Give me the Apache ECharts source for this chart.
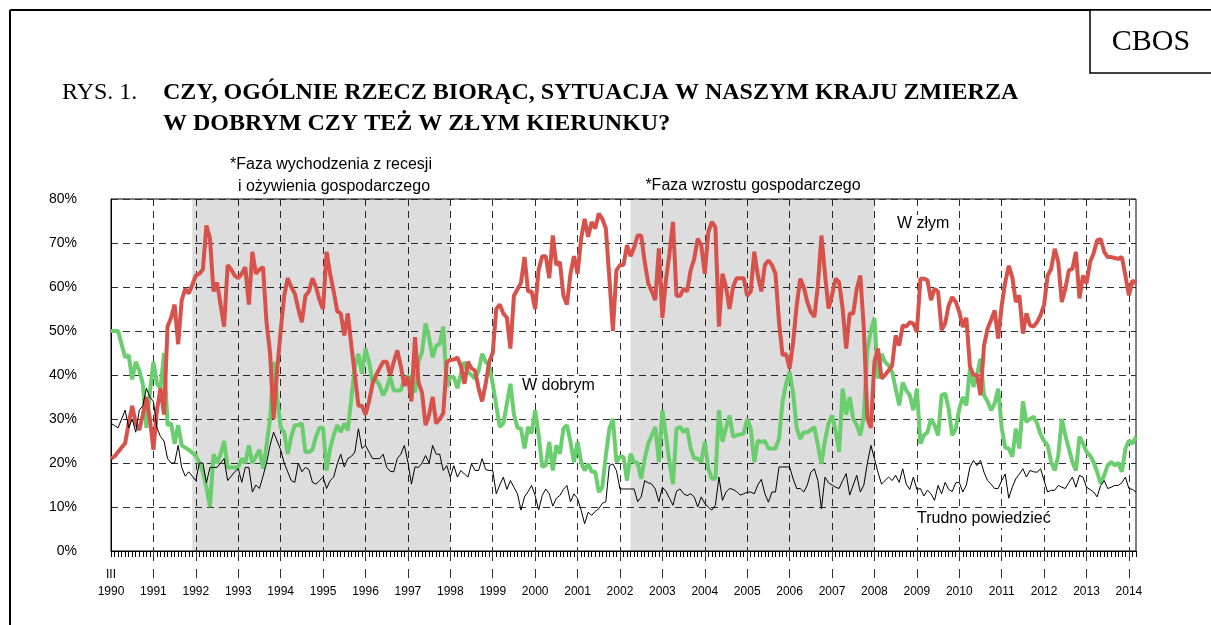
<!DOCTYPE html>
<html>
<head>
<meta charset="utf-8">
<title>CBOS - Rys. 1</title>
<script src="https://cdn.jsdelivr.net/npm/echarts@6.0.0/dist/echarts.min.js"></script>
<style>
  html, body { margin: 0; padding: 0; background: #fff; }
  #chart { width: 1211px; height: 625px; }
</style>
</head>
<body>
<div id="chart"></div>
<script>
// one survey per slot, 12 slots per year, from III 1990 to III 2014
const years = ['1990', '1991', '1992', '1993', '1994', '1995', '1996', '1997', '1998', '1999', '2000', '2001',
  '2002', '2003', '2004', '2005', '2006', '2007', '2008', '2009', '2010', '2011', '2012', '2013', '2014']

// "W złym kierunku" (%)
const zly = [
  21, 21.5, 22.5, 23.5, 24.5, 29, 33, 29, 27.5, 31, 35, 30, // 1990
  23, 32, 37, 31, 51, 53, 56, 47, 57, 59.6, 58.5, 60.5, // 1991
  62.6, 63, 64, 74, 71, 59, 61, 56, 51, 65, 64, 62.6, // 1992
  62, 63, 64.5, 56, 68, 63, 64, 64.5, 52, 45, 30, 41, // 1993
  50, 58, 62, 60, 58.5, 55, 52, 58, 59, 62, 60, 57, // 1994
  55, 68, 63, 59, 54.5, 54, 49, 54, 46.7, 40, 33, 33, // 1995
  31, 34, 38, 40, 41.5, 43, 43, 40, 43, 45.6, 42, 37.5, // 1996
  39.6, 34, 48.6, 38.3, 36, 28.6, 31, 35, 29, 30, 31.3, 43, // 1997
  43.4, 43.5, 44, 42, 38, 43, 41.5, 41, 37, 34, 38, 43, // 1998
  45, 55, 56, 54, 53, 46, 58, 59.5, 61, 66.8, 59, 59, // 1999
  55, 64, 67, 67, 62, 71.7, 65, 65.7, 58, 56, 63, 67, // 2000
  63, 71, 75.5, 71.4, 74.8, 73.3, 76.7, 75.5, 73.3, 62, 50, 63.8, // 2001
  65, 65, 69.5, 67, 69, 71.7, 71.7, 65.7, 60.8, 59, 57, 68.8, // 2002
  53, 61.5, 67.6, 74.8, 58, 58, 59.6, 59, 63.8, 66.4, 71, 69.5, // 2003
  63, 72.5, 74.8, 73.6, 51, 63, 60, 55, 60, 62, 62, 62, // 2004
  58, 59, 68, 62.6, 59, 65, 66, 65, 63, 52, 44.5, 44.8, // 2005
  41.4, 47.5, 55.8, 61.9, 60, 56.6, 54.3, 53.2, 60.4, 71.7, 63, 55.1, // 2006
  58.1, 61.9, 61.1, 55.1, 46, 54, 54, 59.6, 62.6, 50.5, 30, 28, // 2007
  43, 46, 39.2, 40, 41, 42.2, 49, 46.7, 51.3, 51, 52, 51.7, // 2008
  49.8, 61.9, 61.9, 61.5, 57, 59.6, 58.9, 50.2, 51.7, 55.8, 57.7, 56.6, // 2009
  54.3, 50.9, 53, 42, 40, 40, 35.4, 46.7, 50.5, 52.5, 54.7, 48.3, // 2010
  55.8, 61.1, 64.8, 62.2, 56.6, 58.1, 49.4, 54, 51.3, 51, 52, 53.6, // 2011
  56, 62.6, 64.1, 68.7, 65.7, 56.6, 59.6, 63.8, 64.1, 68, 57.4, 62.6, // 2012
  60.8, 65.7, 67.6, 70.6, 70.9, 68, 66.8, 66.8, 66.6, 66.4, 66.8, 62.6, // 2013
  58.1, 61.5, 60.8 // 2014
]

// "W dobrym kierunku" (%)
const dobry = [
  50, 50, 50, 47, 44, 44.5, 39, 43, 41, 38, 28, 36,
  43, 38, 37, 45, 28.6, 29, 24.4, 28.6, 24, 23.5, 23, 22.3,
  21.7, 20, 18, 14.5, 10, 22, 20, 22, 25, 19, 19, 19,
  19, 21, 20, 24, 20, 21.5, 23, 18.7, 24, 30, 43, 35,
  28, 27, 22, 26, 28.6, 28.6, 29, 22.5, 22.5, 23, 26, 28,
  28, 18.3, 23.3, 26.3, 28.6, 27, 29, 27.4, 34.7, 42, 44.8, 40.3,
  46, 43, 38.4, 39, 37.6, 35.4, 37, 39.6, 36.5, 36.5, 36.5, 39.2,
  39.6, 39.6, 36, 43, 45.2, 51.7, 48.3, 44, 46.7, 47, 51, 37.3,
  39.6, 39.5, 37, 40.3, 43, 40.7, 40, 39.2, 41, 44.8, 43, 42.2,
  38, 33, 28.2, 29, 33.5, 38, 31, 28, 27.8, 23.3, 28.2, 26.7,
  32, 26.3, 19.1, 19.5, 24.8, 18.3, 24, 22.1, 27.8, 28.6, 24.8, 20.2,
  24.8, 20.2, 18.3, 19.8, 18, 18, 13.4, 14.5, 21.7, 27.8, 30, 20.2,
  21.4, 21.4, 16, 22.1, 20.2, 20, 16.4, 21, 24.4, 26.3, 28.2, 20.2,
  32, 26.3, 20.2, 15.2, 27.8, 28.2, 27, 27.8, 23.3, 21, 21, 20.2,
  24.8, 18.7, 16.4, 16.4, 32, 24.8, 28, 30.8, 25.9, 26.3, 26.5, 26.7,
  30, 27.8, 20.2, 25.1, 24.8, 25, 23.3, 23.3, 23.3, 25.5, 33.9, 38,
  40.7, 35.8, 28, 25.5, 27, 27, 27.5, 28.2, 24, 19.8, 25.1, 29,
  30.8, 27.4, 22.5, 36.9, 31, 35, 30, 28.6, 26.3, 30.8, 46, 50,
  53, 39.2, 44.8, 43, 42.2, 40.7, 36.9, 33.1, 38.3, 36.5, 35.4, 32,
  36.9, 24.4, 26.3, 27, 30, 28.6, 26.3, 35.4, 35.8, 32.3, 26.3, 27.8,
  32.3, 35, 33.1, 41.4, 37.3, 40, 43.7, 35.4, 34, 32, 33.5, 36.9,
  28, 23.5, 23.3, 21.4, 27.8, 23.3, 34, 29.3, 30, 30.5, 29, 26.5,
  25, 24, 20.2, 18.3, 21.7, 30, 26.3, 23.3, 20.2, 18.3, 26, 24.5,
  22.5, 21.7, 20.2, 18, 15.3, 17.2, 19.5, 20.2, 19.5, 20, 18, 23.3,
  25.1, 24.4, 25.9
]

// "Trudno powiedzieć" (%)
const trudno = [
  29, 28.5, 28, 30, 32, 28, 30, 27, 32, 33, 37, 35,
  34, 28, 26, 25, 21, 20, 20, 24, 19, 17, 18, 17,
  16, 20, 20, 15.5, 19, 19, 19, 20, 21, 16, 17, 18,
  18.7, 15.6, 19, 19, 13.4, 15, 14.2, 17, 20, 24, 27, 25,
  23, 20, 18, 16, 15.6, 20, 18, 19, 18.5, 15.6, 15.2, 16,
  16.8, 14.2, 16, 16.8, 19.8, 22, 19.1, 21, 21.5, 22.5, 27.8, 23.3,
  24, 22.5, 21, 21, 21, 22, 19, 18.1, 18, 21, 22, 24,
  20.2, 15.2, 19.1, 19, 20, 21.7, 20, 24, 22, 22, 18.3, 19.4,
  16.8, 19.4, 16.8, 18.3, 17.5, 16.8, 19.8, 18.3, 18.3, 21, 18.5, 18.3,
  18.3, 13, 15, 16.8, 14, 16, 14.5, 13, 9.3, 12.3, 13.5, 14.9,
  12.6, 9.3, 12.6, 14.1, 13, 10.2, 12, 12.6, 14, 14.9, 11.2, 13,
  11.9, 9.3, 6.2, 8.8, 8.1, 9, 9.6, 10.8, 11.2, 19.4, 19.8, 18.3,
  14.1, 14.1, 14.1, 14.1, 14.1, 11.2, 12.3, 16, 15.5, 15.2, 14.1, 11.2,
  14.5, 13.6, 12, 10.4, 13.6, 14.1, 13, 12.6, 13, 12.3, 10, 12.3,
  10.8, 10, 9.3, 10.4, 16.8, 11.5, 13.4, 14.2, 14, 13.5, 12.7, 13,
  13.4, 13.4, 13, 15, 16.3, 13, 11.1, 13.4, 13.4, 19.1, 19.1, 19.1,
  19.1, 16.4, 14.2, 14.2, 13.4, 15, 17.9, 18.7, 16, 9.6, 16.8, 15.5,
  15, 14.5, 14.2, 16, 17.6, 12.7, 15, 17.2, 13.4, 15, 20, 24,
  21, 17.9, 15.2, 16, 16.8, 16, 17.2, 15.6, 18.7, 15.2, 14, 16.8,
  14, 14.2, 12.5, 13.8, 13, 11.5, 14.9, 13, 15.6, 14, 13.5, 15.5,
  15.6, 13.4, 15, 19, 20.6, 19.4, 20.6, 17.9, 16, 15.2, 14.2, 14.2,
  16, 17.5, 12, 14.5, 16.4, 17.5, 18.7, 16.8, 18.3, 18, 17.9, 18.7,
  16, 13.4, 13.8, 13.8, 14.9, 14.5, 14.2, 15.6, 16.8, 14.5, 17.2, 16.8,
  14.5, 14, 13.4, 12.3, 14.9, 16, 14.2, 14.5, 14.9, 14.9, 15.5, 16.8,
  14.2, 14, 13.4
]

// shaded phases, as survey slot indices
const fazaRecesji = [23, 96]
const fazaWzrostu = [147, 216]

const categories = zly.map((v, i) => years[Math.floor(i / 12)] + '/' + (i % 12 + 1))

const isYear = idx => idx % 12 === 0
const sans = '"Liberation Sans", Arial, sans-serif'
const serif = '"Liberation Serif", "Times New Roman", serif'
const dash = { color: '#2e2e2e', width: 1, type: [7, 5] }

// series name labels sit on a white box, above the grid lines
function seriesLabel(text, x, y) {
  return {
    type: 'text',
    z: 100,
    style: {
      text: text, x: x, y: y,
      font: '16px ' + sans, fill: '#000',
      textVerticalAlign: 'middle',
      backgroundColor: '#fff',
      padding: [1, 2]
    }
  }
}

const chart = echarts.init(document.getElementById('chart'))

chart.setOption({
  animation: false,
  backgroundColor: '#fff',
  grid: {
    left: 111,
    right: 75,
    top: 199,
    bottom: 74,
    show: true,
    borderColor: '#000',
    borderWidth: 1
  },
  xAxis: [
    {
      type: 'category',
      boundaryGap: false,
      data: categories,
      axisLine: { lineStyle: { color: '#000', width: 1 } },
      axisTick: { interval: 0, length: 6, lineStyle: { color: '#000', width: 1 } },
      axisLabel: { show: false },
      splitLine: { show: true, interval: (idx) => isYear(idx), lineStyle: dash }
    },
    {
      type: 'category',
      boundaryGap: false,
      data: categories,
      position: 'bottom',
      axisLine: { show: false },
      axisTick: {
        interval: (idx) => isYear(idx) && idx > 0,
        length: 27,
        lineStyle: { color: '#333', width: 1, type: [10, 8] }
      },
      axisLabel: {
        interval: (idx) => isYear(idx),
        margin: 15,
        color: '#000',
        fontFamily: sans,
        fontSize: 12,
        lineHeight: 17,
        formatter: (value, idx) => idx === 0 ? 'III\n1990' : '\n' + years[Math.floor(idx / 12)]
      },
      splitLine: { show: false }
    }
  ],
  yAxis: {
    type: 'value',
    min: 0,
    max: 80,
    interval: 10,
    axisLine: { show: true, lineStyle: { color: '#000', width: 1 } },
    axisTick: { show: false },
    axisLabel: {
      formatter: '{value}%',
      margin: 34,
      color: '#000',
      fontFamily: sans,
      fontSize: 14
    },
    splitLine: { show: true, lineStyle: dash }
  },
  series: [
    {
      name: 'W dobrym',
      type: 'line',
      data: dobry,
      showSymbol: false,
      lineStyle: { color: '#6acd6e', width: 4 },
      markArea: {
        silent: true,
        itemStyle: { color: 'rgba(0, 0, 0, 0.135)' },
        data: [
          [{ xAxis: fazaRecesji[0] }, { xAxis: fazaRecesji[1] }],
          [{ xAxis: fazaWzrostu[0] }, { xAxis: fazaWzrostu[1] }]
        ]
      }
    },
    {
      name: 'W złym',
      type: 'line',
      data: zly,
      showSymbol: false,
      lineStyle: { color: '#d6524a', width: 4 }
    },
    {
      name: 'Trudno powiedzieć',
      type: 'line',
      data: trudno,
      showSymbol: false,
      lineStyle: { color: '#000', width: 1 }
    }
  ],
  graphic: [
    // page frame and CBOS box
    { type: 'line', shape: { x1: 10, y1: 10, x2: 1211, y2: 10 }, style: { stroke: '#000', lineWidth: 2 } },
    { type: 'line', shape: { x1: 10, y1: 10, x2: 10, y2: 625 }, style: { stroke: '#000', lineWidth: 2 } },
    { type: 'rect', shape: { x: 1090, y: 10, width: 130, height: 63 }, style: { fill: '#fff', stroke: '#000', lineWidth: 1.5 } },
    { type: 'text', style: { text: 'CBOS', x: 1151, y: 42, font: '30px ' + serif, fill: '#000', textAlign: 'center', textVerticalAlign: 'middle' } },
    // title
    { type: 'text', style: { text: 'RYS. 1.', x: 62, y: 93, font: '24px ' + serif, fill: '#000', textVerticalAlign: 'middle' } },
    { type: 'text', style: { text: 'CZY, OGÓLNIE RZECZ BIORĄC, SYTUACJA W NASZYM KRAJU ZMIERZA', x: 163, y: 93, font: 'bold 24px ' + serif, fill: '#000', textVerticalAlign: 'middle' } },
    { type: 'text', style: { text: 'W DOBRYM CZY TEŻ W ZŁYM KIERUNKU?', x: 163, y: 124, font: 'bold 24px ' + serif, fill: '#000', textVerticalAlign: 'middle' } },
    // phase captions
    { type: 'text', style: { text: '*Faza wychodzenia z recesji', x: 331, y: 165, font: '16px ' + sans, fill: '#000', textAlign: 'center', textVerticalAlign: 'middle' } },
    { type: 'text', style: { text: 'i ożywienia gospodarczego', x: 334, y: 187, font: '16px ' + sans, fill: '#000', textAlign: 'center', textVerticalAlign: 'middle' } },
    { type: 'text', style: { text: '*Faza wzrostu gospodarczego', x: 753, y: 186, font: '16px ' + sans, fill: '#000', textAlign: 'center', textVerticalAlign: 'middle' } },
    // series names
    seriesLabel('W złym', 895, 224),
    seriesLabel('W dobrym', 520, 386),
    seriesLabel('Trudno powiedzieć', 915, 519)
  ]
})
</script>
</body>
</html>
